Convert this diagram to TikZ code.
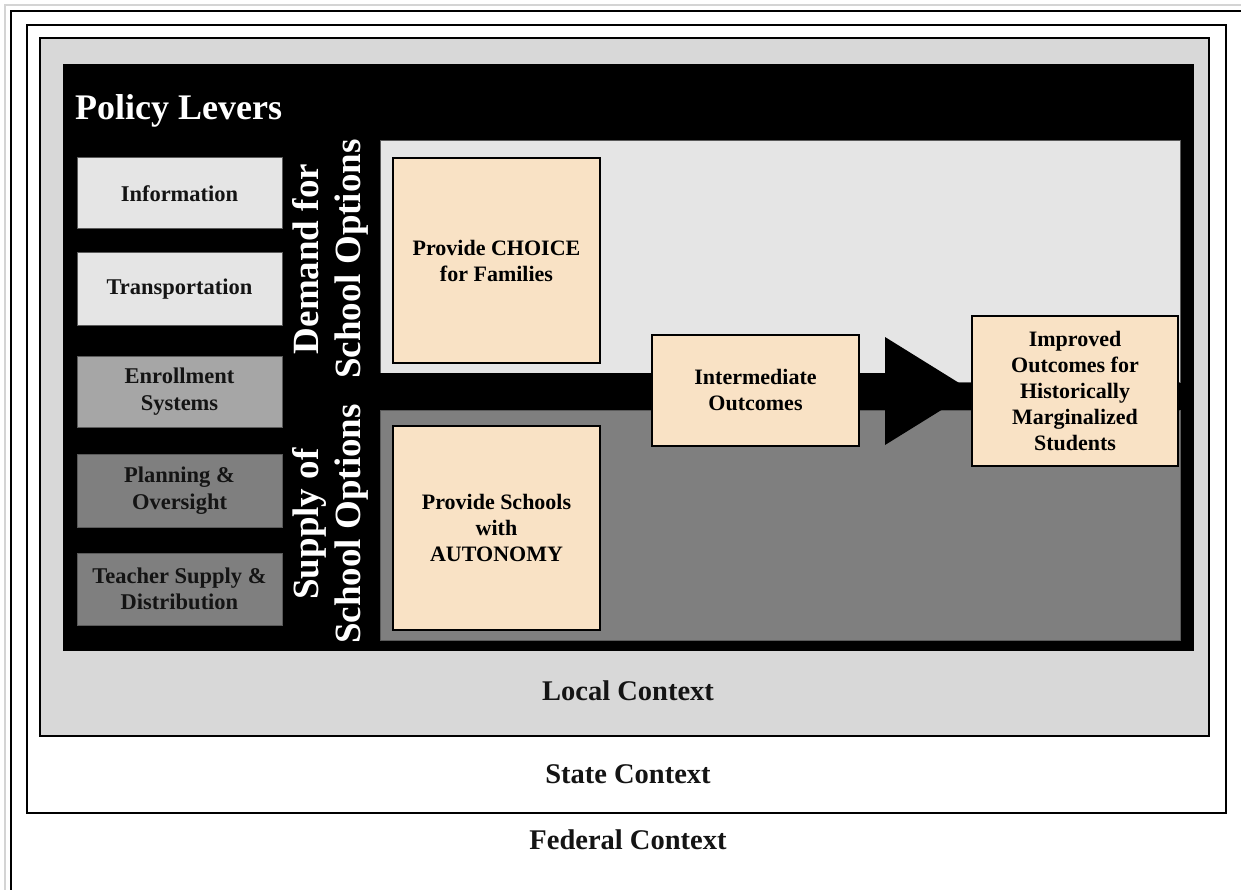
\documentclass[tikz,border=0pt]{standalone}
\usepackage{fontspec}
\setmainfont{Liberation Serif}
\definecolor{orangebox}{HTML}{F9E2C5}
\definecolor{lightreg}{HTML}{E5E5E5}
\definecolor{darkreg}{HTML}{7F7F7F}
\definecolor{localfill}{HTML}{D8D8D8}
\definecolor{enrollfill}{HTML}{A6A6A6}
\definecolor{boxedge}{HTML}{5A5A5A}
\definecolor{txt}{HTML}{141414}
\definecolor{outergray}{HTML}{D4D4D4}
\begin{document}
\begin{tikzpicture}[x=1pt,y=-1pt,
  lever/.style={draw=boxedge,line width=1pt,minimum width=205pt,inner sep=0pt,align=center,
    text=txt,font=\fontsize{22.5}{26.5}\selectfont\bfseries},
  outcome/.style={draw=black,line width=2pt,fill=orangebox,inner sep=0pt,align=center,
    text=black,font=\fontsize{22}{26}\selectfont\bfseries},
  sidelabel/.style={rotate=90,align=center,text=white,inner sep=0pt,
    font=\fontsize{37}{42}\selectfont\bfseries},
  ctx/.style={text=txt,inner sep=0pt,font=\fontsize{28.5}{32}\selectfont\bfseries}]
\useasboundingbox (0,0) rectangle (1241,890);
\fill[white] (0,0) rectangle (1241,890);
% outermost frame (federal)
\draw[outergray,line width=2.5pt] (5,890) -- (5,5) -- (1241,5);
\draw[black,line width=2pt] (11,890) -- (11,11) -- (1241,11);
% state frame
\draw[black,line width=2.5pt] (27,25) rectangle (1226,813);
% local frame
\draw[black,line width=2pt,fill=localfill] (40,38) rectangle (1209,736);
% black policy area
\fill[black] (63,64) rectangle (1194,651);
% demand and supply regions
\draw[fill=lightreg,draw=boxedge,line width=0.8pt] (380,140) rectangle (1180,382);
\draw[fill=darkreg,draw=boxedge,line width=0.8pt] (380,410) rectangle (1180,640);
% shaft
\fill[black] (379,373) rectangle (885,410);

% levers
\node[ctx,text=white,anchor=base west,font=\fontsize{36}{40}\selectfont\bfseries] (policy) at (75,120) {Policy Levers};
\node[lever,fill=lightreg,minimum height=71pt] (info) at (179.5,193.5) {Information};
\node[lever,fill=lightreg,minimum height=72pt] (trans) at (179.5,289) {Transportation};
\node[lever,fill=enrollfill,minimum height=71pt] (enroll) at (179.5,391.5) {Enrollment\\Systems};
\node[lever,fill=darkreg,minimum height=73pt] (plan) at (179.5,490.5) {Planning \&\\Oversight};
\node[lever,fill=darkreg,minimum height=72pt] (teach) at (179.5,589) {Teacher Supply \&\\Distribution};

% side labels
\node[sidelabel] (demand) at (330,259) {Demand for\\School Options};
\node[sidelabel] (supply) at (330,524) {Supply of\\School Options};

% outcome boxes
\node[outcome,minimum width=207pt,minimum height=205pt] (choice) at (496.5,260.5) {Provide CHOICE\\for Families};
\node[outcome,minimum width=207pt,minimum height=204pt] (auton) at (496.5,528) {Provide Schools\\with\\AUTONOMY};
\node[outcome,minimum width=207pt,minimum height=111pt] (inter) at (755.5,390.5) {Intermediate\\Outcomes};

% big arrowhead
\coordinate (tipbase) at (885,391);
\fill[black] (885,337) -- (885,445) -- (972,391) -- cycle;

\node[outcome,minimum width=206pt,minimum height=150pt] (improved) at (1075,391) {Improved\\Outcomes for\\Historically\\Marginalized\\Students};

% context labels
\node[ctx] (local) at (628,691) {Local Context};
\node[ctx] (state) at (628,774) {State Context};
\node[ctx] (federal) at (628,840) {Federal Context};
\end{tikzpicture}
\end{document}
